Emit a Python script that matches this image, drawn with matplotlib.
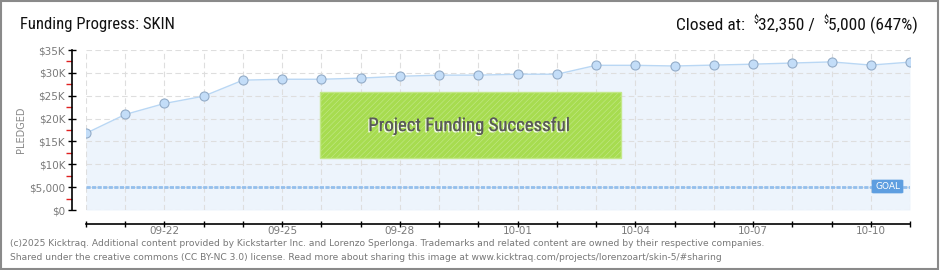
import matplotlib
matplotlib.use("Agg")
import matplotlib.pyplot as plt
from matplotlib import font_manager as fm
from matplotlib.patches import Rectangle, FancyBboxPatch
import matplotlib.patheffects as pe
from matplotlib.ticker import FixedLocator

# Daily pledged totals (USD)
dates = ["09-20", "09-21", "09-22", "09-23", "09-24", "09-25", "09-26", "09-27",
         "09-28", "09-29", "09-30", "10-01", "10-02", "10-03", "10-04", "10-05",
         "10-06", "10-07", "10-08", "10-09", "10-10", "10-11"]
pledged = [16780, 20900, 23300, 24900, 28400, 28600, 28600, 28850,
           29250, 29500, 29500, 29700, 29700, 31650, 31650, 31500,
           31700, 31900, 32150, 32400, 31700, 32350]
goal = 5000
y_ticks = [0, 5000, 10000, 15000, 20000, 25000, 30000, 35000]
y_tick_labels = ["$0", "$5,000", "$10K", "$15K", "$20K", "$25K", "$30K", "$35K"]
label_dates = ["09-22", "09-25", "09-28", "10-01", "10-04", "10-07", "10-10"]

W, H = 940, 270
fig = plt.figure(figsize=(W / 100, H / 100), dpi=100)
fig.patch.set_facecolor("white")

# pick a narrow face for headings
names = {f.name for f in fm.fontManager.ttflist}
cond_kw = None
for fam in ["Roboto Condensed", "Liberation Sans Narrow", "Open Sans Condensed"]:
    if fam in names:
        cond_kw = dict(family=fam)
        break
if cond_kw is None:
    path = fm.findfont(fm.FontProperties(family="DejaVu Sans", stretch="condensed"),
                       fallback_to_default=False)
    if "Condensed" in path:
        cond_kw = dict(family="DejaVu Sans", fontstretch="condensed")
    else:
        cond_kw = dict(family="Roboto")


def fx(px):
    return px / W


def fy(py):
    return 1 - py / H


# plot area
ax = fig.add_axes([fx(86), fy(210), fx(910) - fx(86), fy(50) - fy(210)])
ax.set_facecolor("white")
x = list(range(len(dates)))
ax.set_xlim(0, len(dates) - 1)
ax.set_ylim(0, 35000)

ax.fill_between(x, pledged, 0, color="#edf4fc", zorder=0.2, linewidth=0)
ax.plot(x, pledged, color="#b9d7f4", lw=1.0, zorder=3)
ax.plot(x, pledged, linestyle="none", marker="o", ms=6.5, mfc="#c3ddf8",
        mec="#93acc8", mew=0.8, zorder=4)

# goal line
ax.axhline(goal, color="#94bfec", lw=2.0, linestyle=(0, (1.5, 0.5)), zorder=2)

# ticks and grid
ax.set_yticks(y_ticks)
ax.set_yticklabels(y_tick_labels)
ax.yaxis.set_minor_locator(FixedLocator([2500, 7500, 12500, 17500, 22500, 27500, 32500]))
ax.set_xticks(x)
ax.set_xticklabels([d if d in label_dates else "" for d in dates])
ax.grid(True, which="major", color="#dedede", lw=0.8, linestyle=(0, (5, 3)))
ax.set_axisbelow(True)

for s in ["top", "right"]:
    ax.spines[s].set_visible(False)
ax.spines["left"].set_position(("outward", 10))
ax.spines["bottom"].set_position(("outward", 10))
ax.spines["left"].set_linewidth(1.2)
ax.spines["bottom"].set_linewidth(1.2)

ax.tick_params(axis="y", which="major", direction="inout", length=6, width=1,
               color="black", labelsize=7.5, labelcolor="#7a7a7a", pad=2)
ax.tick_params(axis="y", which="minor", direction="out", length=4, width=1,
               color="#e02020")
ax.tick_params(axis="x", which="major", direction="inout", length=4.5, width=1,
               color="black", labelsize=7.5, labelcolor="#7a7a7a", pad=-0.5)
for t in ax.get_xticklabels() + ax.get_yticklabels():
    t.set_family("DejaVu Sans")

# GOAL tag
tag = FancyBboxPatch((fx(872), fy(193)), fx(903) - fx(872), fy(180) - fy(193),
                     boxstyle="round,pad=0,rounding_size=0.002",
                     transform=fig.transFigure, facecolor="#5e9ee0",
                     edgecolor="#5e9ee0", lw=0.5, zorder=10)
fig.patches.append(tag)
fig.text(fx(887.5), fy(186.5), "GOAL", color="white", fontsize=6.5,
         ha="center", va="center", family="DejaVu Sans", zorder=11)

# success banner
plt.rcParams["hatch.color"] = "#a0d64a"
plt.rcParams["hatch.linewidth"] = 0.4
banner = Rectangle((fx(320), fy(158)), fx(621) - fx(320), fy(92) - fy(158),
                   transform=fig.transFigure, facecolor="#a7dc50",
                   edgecolor="#c3e88a", lw=1, hatch="//////", zorder=10)
fig.patches.append(banner)
fig.text(fx(469), fy(126), "Project Funding Successful", color="#5a5a5a",
         fontsize=13.5, ha="center", va="center", zorder=11,
         path_effects=[pe.withSimplePatchShadow(offset=(-1, -1), shadow_rgbFace="white", alpha=0.85),
                       pe.Normal()], **cond_kw)

# y axis title
fig.text(fx(21), fy(130), "PLEDGED", rotation=90, color="#888888", fontsize=7,
         ha="center", va="center", family="DejaVu Sans")

# header
fig.text(fx(20), fy(25), "Funding Progress: SKIN", fontsize=12, color="#111111",
         ha="left", va="center", **cond_kw)

renderer = fig.canvas.get_renderer()
pieces = [("Closed at:  ", 12.5, 25), ("$", 7.5, 20), ("32,350 /  ", 12.5, 25),
          ("$", 7.5, 20), ("5,000 (647%)", 12.5, 25)]
xr = fx(918)
for txt, size, ypx in reversed(pieces):
    t = fig.text(xr, fy(ypx), txt, fontsize=size, color="#111111", ha="right",
                 va="center", **cond_kw)
    bb = t.get_window_extent(renderer)
    xr = bb.x0 / W

# footer
fig.text(fx(10), fy(243), "(c)2025 Kicktraq. Additional content provided by Kickstarter Inc. and Lorenzo Sperlonga. "
         "Trademarks and related content are owned by their respective companies.",
         fontsize=6.6, color="#777777", ha="left", va="center", family="DejaVu Sans")
fig.text(fx(10), fy(257), "Shared under the creative commons (CC BY-NC 3.0) license. Read more about sharing "
         "this image at www.kicktraq.com/projects/lorenzoart/skin-5/#sharing",
         fontsize=6.6, color="#777777", ha="left", va="center", family="DejaVu Sans")

# outer frame
frame = Rectangle((0.001, 0.002), 0.997, 0.995, transform=fig.transFigure,
                  facecolor="none", edgecolor="#8a8a8a", lw=1.5, zorder=20)
fig.patches.append(frame)

fig.savefig("out.png", dpi=100)
